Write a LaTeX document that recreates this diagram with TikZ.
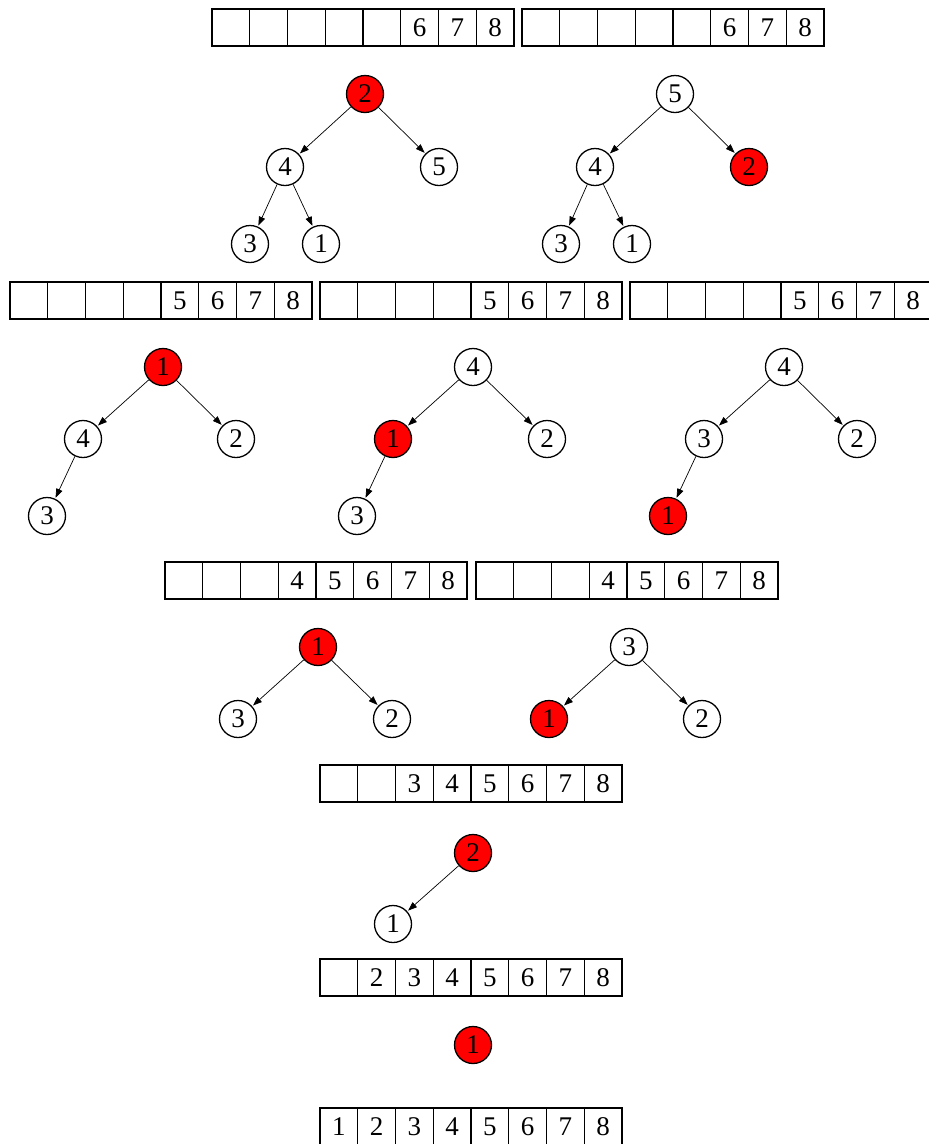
\documentclass[tikz,border=0pt]{standalone}
\usepackage{fontspec}
\setmainfont{Liberation Serif}
\usetikzlibrary{arrows.meta}
\tikzset{
  cell/.style={draw, line width=1.4pt, minimum width=37.75pt, minimum height=37pt, inner sep=0pt, font=\fontsize{27}{32}\selectfont},
  tnode/.style={circle, draw, line width=1.3pt, minimum size=37pt, inner sep=0pt, fill=white, font=\fontsize{27}{32}\selectfont},
  hot/.style={tnode, fill=red},
  edge/.style={line width=0.7pt, -{Triangle[length=9pt,width=6.5pt]}, shorten >=1pt}
}
\newcommand\cellrow[4]{%
  \foreach \t [count=\i from 0] in {#3} {
    \node[cell] (#4-\i) at (#1+\i*37.75+18.875, #2+18.5) {\t};
  }%
}
\begin{document}
\begin{tikzpicture}[x=1pt, y=-1pt]
\useasboundingbox (0,0) rectangle (929,1144);
% arrays
\cellrow{212}{9}{,,,,,6,7,8}{a1}
\cellrow{522}{9}{,,,,,6,7,8}{a2}
\cellrow{10}{282}{,,,,5,6,7,8}{a3}
\cellrow{320}{282}{,,,,5,6,7,8}{a4}
\cellrow{630}{282}{,,,,5,6,7,8}{a5}
\cellrow{165}{562}{,,,4,5,6,7,8}{a6}
\cellrow{476}{562}{,,,4,5,6,7,8}{a7}
\cellrow{320}{765}{,,3,4,5,6,7,8}{a8}
\cellrow{320}{959}{,2,3,4,5,6,7,8}{a9}
\cellrow{320}{1108}{1,2,3,4,5,6,7,8}{a10}
% tree 1
\node[hot] (t1r) at (365,94) {2};
\node[tnode] (t1a) at (285,167) {4};
\node[tnode] (t1b) at (439,167) {5};
\node[tnode] (t1c) at (250,244) {3};
\node[tnode] (t1d) at (321,244) {1};
\draw[edge] (t1r) -- (t1a);
\draw[edge] (t1r) -- (t1b);
\draw[edge] (t1a) -- (t1c);
\draw[edge] (t1a) -- (t1d);
% tree 2
\node[tnode] (t2r) at (675,94) {5};
\node[tnode] (t2a) at (595,167) {4};
\node[hot] (t2b) at (749,167) {2};
\node[tnode] (t2c) at (561,244) {3};
\node[tnode] (t2d) at (632,244) {1};
\draw[edge] (t2r) -- (t2a);
\draw[edge] (t2r) -- (t2b);
\draw[edge] (t2a) -- (t2c);
\draw[edge] (t2a) -- (t2d);
% tree 3
\node[hot] (t3r) at (163,367) {1};
\node[tnode] (t3a) at (83,439) {4};
\node[tnode] (t3b) at (236,439) {2};
\node[tnode] (t3c) at (47,516) {3};
\draw[edge] (t3r) -- (t3a);
\draw[edge] (t3r) -- (t3b);
\draw[edge] (t3a) -- (t3c);
% tree 4
\node[tnode] (t4r) at (473,367) {4};
\node[hot] (t4a) at (393,439) {1};
\node[tnode] (t4b) at (547,439) {2};
\node[tnode] (t4c) at (357,516) {3};
\draw[edge] (t4r) -- (t4a);
\draw[edge] (t4r) -- (t4b);
\draw[edge] (t4a) -- (t4c);
% tree 5
\node[tnode] (t5r) at (784,367) {4};
\node[tnode] (t5a) at (704,439) {3};
\node[tnode] (t5b) at (857,439) {2};
\node[hot] (t5c) at (668,516) {1};
\draw[edge] (t5r) -- (t5a);
\draw[edge] (t5r) -- (t5b);
\draw[edge] (t5a) -- (t5c);
% tree 6
\node[hot] (t6r) at (318,647) {1};
\node[tnode] (t6a) at (238,719) {3};
\node[tnode] (t6b) at (392,719) {2};
\draw[edge] (t6r) -- (t6a);
\draw[edge] (t6r) -- (t6b);
% tree 7
\node[tnode] (t7r) at (629,647) {3};
\node[hot] (t7a) at (549,719) {1};
\node[tnode] (t7b) at (702,719) {2};
\draw[edge] (t7r) -- (t7a);
\draw[edge] (t7r) -- (t7b);
% tree 8
\node[hot] (t8r) at (473,853) {2};
\node[tnode] (t8a) at (393,924) {1};
\draw[edge] (t8r) -- (t8a);
% tree 9
\node[hot] (t9r) at (473,1045) {1};
\end{tikzpicture}
\end{document}
